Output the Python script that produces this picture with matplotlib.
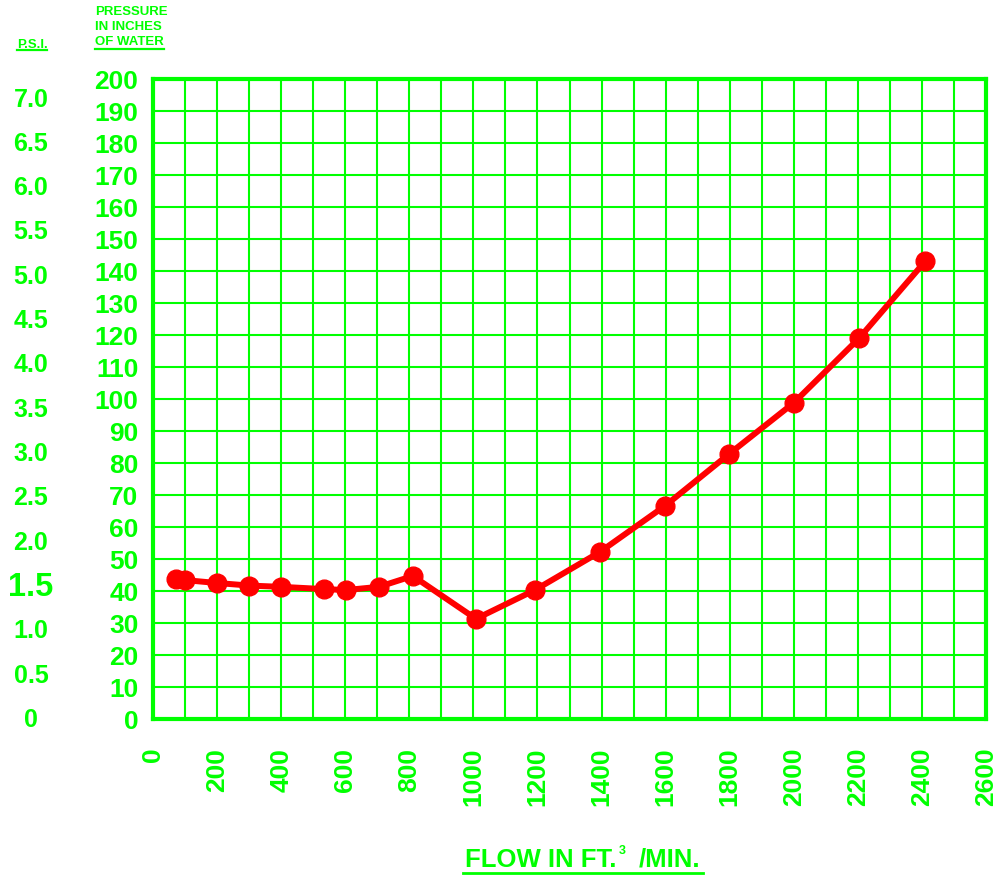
import numpy as np
import matplotlib
matplotlib.use("Agg")
import matplotlib.pyplot as plt
from matplotlib.lines import Line2D
from matplotlib.transforms import blended_transform_factory

# data
flow = [72, 100, 200, 300, 400, 534, 602, 705, 811, 1008, 1192, 1395, 1598, 1798, 2000, 2204, 2410]
pressure = [43.8, 43.4, 42.5, 41.7, 41.3, 40.6, 40.3, 41.3, 44.7, 31.3, 40.3, 52.2, 66.6, 82.8, 98.8, 119, 143]

x_ticks = list(range(0, 2601, 200))
y_ticks = list(range(0, 201, 10))
psi_labels = ["0", "0.5", "1.0", "1.5", "2.0", "2.5", "3.0", "3.5", "4.0", "4.5", "5.0", "5.5", "6.0", "6.5", "7.0"]
psi_values = [0, 0.5, 1.0, 1.5, 2.0, 2.5, 3.0, 3.5, 4.0, 4.5, 5.0, 5.5, 6.0, 6.5, 7.0]
in_water_per_psi = 27.7

green = "#00ff00"
red = "#ff0000"

plt.rcParams['font.family'] = ['Liberation Sans', 'DejaVu Sans']
plt.rcParams['font.weight'] = 'bold'

W, H = 999, 878
fig = plt.figure(figsize=(W / 100, H / 100), dpi=100)
ax = fig.add_axes([153 / W, 1 - 720 / H, 833 / W, 640 / H])

ax.plot(flow, pressure, color=red, lw=4.3, marker="o", markersize=13.5,
        markerfacecolor=red, markeredgecolor=red, zorder=5)

ax.set_xlim(0, 2600)
ax.set_ylim(0, 200)
ax.set_xticks(range(0, 2601, 100), minor=True)
ax.set_xticks(x_ticks)
ax.set_xticklabels([str(v) for v in x_ticks], rotation=90)
ax.set_yticks(y_ticks)
ax.set_yticklabels([str(v) for v in y_ticks])
ax.grid(True, which="both", color=green, lw=1.5)
ax.tick_params(axis="both", which="both", length=0, colors=green, labelsize=19)
ax.tick_params(axis="x", pad=20)
ax.tick_params(axis="y", pad=10.5)
for lab in ax.get_xticklabels() + ax.get_yticklabels():
    lab.set_fontweight("bold")
for s in ax.spines.values():
    s.set_color(green)
    s.set_linewidth(3)

# psi scale on far left
trans = blended_transform_factory(fig.transFigure, ax.transData)
for lab, p in zip(psi_labels, psi_values):
    size = 23.5 if lab == "1.5" else 18
    ax.text(31 / W, p * in_water_per_psi, lab, transform=trans, ha="center", va="center",
            color=green, fontsize=size, fontweight="bold", clip_on=False)

# headers
t_psi = fig.text(32 / W, 1 - 44.5 / H, "P.S.I.", ha="center", va="center",
                 color=green, fontsize=9.5, fontweight="bold")
fig.text(95 / W, 1 - 12 / H, "PRESSURE", ha="left", va="center",
         color=green, fontsize=9.5, fontweight="bold")
fig.text(95 / W, 1 - 27 / H, "IN INCHES", ha="left", va="center",
         color=green, fontsize=9.5, fontweight="bold")
t_ow = fig.text(95 / W, 1 - 42 / H, "OF WATER", ha="left", va="center",
                color=green, fontsize=9.5, fontweight="bold")

# x axis title, pieces placed by hand
t_flow = fig.text(465 / W, 1 - 860 / H, "FLOW IN FT.", ha="left", va="center",
                  color=green, fontsize=18.5, fontweight="bold")
fig.text(622 / W, 1 - 851 / H, "3", ha="center", va="center",
         color=green, fontsize=9, fontweight="bold")
t_min = fig.text(639 / W, 1 - 860 / H, "/MIN.", ha="left", va="center",
                 color=green, fontsize=18.5, fontweight="bold")

# underlines
fig.canvas.draw()
r = fig.canvas.get_renderer()
inv = fig.transFigure.inverted()
for t, y_px, lw in [(t_psi, 51, 1.6), (t_ow, 50, 1.6)]:
    bb = t.get_window_extent(r).transformed(inv)
    fig.add_artist(Line2D([bb.x0, bb.x1], [1 - y_px / H] * 2, color=green, lw=lw,
                          transform=fig.transFigure))
b1 = t_flow.get_window_extent(r).transformed(inv)
b2 = t_min.get_window_extent(r).transformed(inv)
fig.add_artist(Line2D([b1.x0 - 2 / W, b2.x1 + 2 / W], [1 - 874 / H] * 2, color=green, lw=2.0,
                      transform=fig.transFigure))

fig.savefig("out.png", dpi=100)
